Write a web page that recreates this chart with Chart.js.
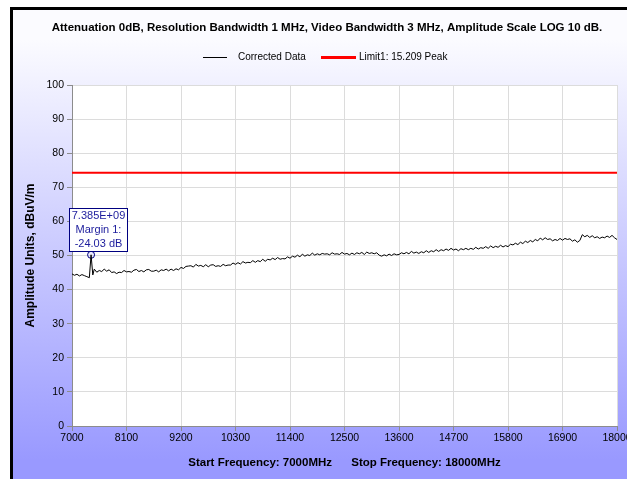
<!DOCTYPE html>
<html>
<head>
<meta charset="utf-8">
<script src="https://cdn.jsdelivr.net/npm/chart.js@4"></script>
<style>
html,body{margin:0;padding:0;background:#fff;}
#c{display:block;}
</style>
</head>
<body>
<canvas id="c" width="627" height="479"></canvas>
<script>
// ---------------- data ----------------
const chartTitle = 'Attenuation 0dB, Resolution Bandwidth 1 MHz, Video Bandwidth 3 MHz, Amplitude Scale LOG 10 dB.';
const xAxisTitle = 'Start Frequency: 7000MHz      Stop Frequency: 18000MHz';
const yAxisTitle = 'Amplitude Units, dBuV/m';
const seriesNames = ['Corrected Data', 'Limit1: 15.209 Peak'];

const freqs = [
  7000,7050,7100,7150,7200,7250,7300,7350,7385,7420,
  7450,7500,7550,7600,7650,7700,7750,7800,7850,7900,
  7950,8000,8050,8100,8150,8200,8250,8300,8350,8400,
  8450,8500,8550,8600,8650,8700,8750,8800,8850,8900,
  8950,9000,9050,9100,9150,9200,9250,9300,9350,9400,
  9450,9500,9550,9600,9650,9700,9750,9800,9850,9900,
  9950,10000,10050,10100,10150,10200,10250,10300,10350,10400,
  10450,10500,10550,10600,10650,10700,10750,10800,10850,10900,
  10950,11000,11050,11100,11150,11200,11250,11300,11350,11400,
  11450,11500,11550,11600,11650,11700,11750,11800,11850,11900,
  11950,12000,12050,12100,12150,12200,12250,12300,12350,12400,
  12450,12500,12550,12600,12650,12700,12750,12800,12850,12900,
  12950,13000,13050,13100,13150,13200,13250,13300,13350,13400,
  13450,13500,13550,13600,13650,13700,13750,13800,13850,13900,
  13950,14000,14050,14100,14150,14200,14250,14300,14350,14400,
  14450,14500,14550,14600,14650,14700,14750,14800,14850,14900,
  14950,15000,15050,15100,15150,15200,15250,15300,15350,15400,
  15450,15500,15550,15600,15650,15700,15750,15800,15850,15900,
  15950,16000,16050,16100,16150,16200,16250,16300,16350,16400,
  16450,16500,16550,16600,16650,16700,16750,16800,16850,16900,
  16950,17000,17050,17100,17150,17200,17250,17300,17350,17400,
  17450,17500,17550,17600,17650,17700,17750,17800,17850,17900,
  17950,18000
];
const amps = [
  44.6,44.2,44.5,44.0,44.4,44.1,43.8,43.5,50.2,44.3,
  46.0,45.1,45.6,45.3,46.0,45.4,45.8,45.0,45.2,44.7,
  45.1,45.0,45.6,45.2,45.3,45.1,45.7,45.9,45.3,45.6,
  45.2,45.8,45.9,45.4,45.4,45.7,45.2,45.8,45.6,46.0,
  45.5,46.0,45.6,46.1,45.8,46.5,46.2,46.8,46.9,47.0,
  46.6,47.4,46.9,47.1,46.7,47.3,46.7,47.2,47.3,46.8,
  47.0,46.8,47.4,47.0,47.2,47.2,47.8,47.4,47.9,47.5,
  48.2,47.8,48.0,47.9,48.5,48.0,48.5,48.2,48.9,48.3,
  48.9,48.7,49.2,48.8,49.4,48.9,49.1,49.0,49.6,49.2,
  49.8,49.5,50.1,49.6,50.4,49.8,50.2,50.0,50.7,50.1,
  50.5,50.2,50.6,50.4,50.5,50.2,50.8,50.4,50.5,50.3,
  50.9,50.4,50.6,50.2,50.7,50.3,50.8,50.5,50.9,50.3,
  51.0,50.6,50.8,50.5,50.8,50.1,49.8,50.2,49.9,50.4,
  50.0,50.5,50.2,50.3,50.8,50.5,50.9,50.5,51.2,50.7,
  51.0,50.6,51.1,50.8,51.4,50.9,51.4,51.1,51.7,51.2,
  51.7,51.4,51.9,51.5,52.1,51.6,51.9,51.4,52.0,51.7,
  52.1,51.7,52.1,51.8,52.4,51.9,52.3,52.1,52.6,52.1,
  52.8,52.3,52.7,52.4,53.0,52.5,52.9,52.6,53.3,53.1,
  53.6,53.2,53.9,53.5,54.2,53.8,54.4,54.0,54.7,54.3,
  55.1,54.6,55.2,54.7,54.9,54.3,54.7,54.4,55.0,54.5,
  55.0,54.7,54.9,54.2,54.6,53.9,54.4,56.1,55.5,55.9,
  55.3,55.8,55.2,55.5,55.0,55.4,55.2,55.7,55.3,55.9,
  55.2,54.7
];

const limitFreqs = [7000, 18000];
const limitLevels = [74.3, 74.3];

const markerFreqs = [7385];
const markerAmps = [50.2];
const markerText = ['7.385E+09', 'Margin 1:', '-24.03 dB'];

const xTicks = [7000,8100,9200,10300,11400,12500,13600,14700,15800,16900,18000];
const yTicks = [0,10,20,30,40,50,60,70,80,90,100];

// ---------------- helpers ----------------
const FONT = '"Liberation Sans", Arial, sans-serif';
const toXY = (xs, ys) => xs.map((x, i) => ({x: x, y: ys[i]}));

const framePlugin = {
  id: 'frame',
  beforeDraw(chart) {
    const ctx = chart.ctx;
    const W = chart.width, H = chart.height;
    ctx.save();
    ctx.fillStyle = '#ffffff';
    ctx.fillRect(0, 0, W, H);
    const g = ctx.createLinearGradient(0, 40, 0, 460);
    g.addColorStop(0, '#fbfbff');
    g.addColorStop(1, '#9999ff');
    ctx.fillStyle = g;
    ctx.fillRect(13, 10, W - 13, H - 10);
    ctx.fillStyle = '#000000';
    ctx.fillRect(10, 7, W - 10, 3);
    ctx.fillRect(10, 7, 3, H - 7);
    const a = chart.chartArea;
    ctx.fillStyle = '#ffffff';
    ctx.fillRect(a.left, a.top, a.right - a.left, a.bottom - a.top);
    ctx.restore();
  },
  afterDraw(chart) {
    const ctx = chart.ctx;
    ctx.save();
    // title
    ctx.fillStyle = '#000';
    ctx.font = 'bold 11.5px ' + FONT;
    ctx.textAlign = 'center';
    ctx.textBaseline = 'middle';
    ctx.fillText(chartTitle, 327, 28);
    // legend
    ctx.font = '10px ' + FONT;
    ctx.textAlign = 'left';
    const ds = chart.data.datasets;
    ctx.strokeStyle = ds[0].borderColor; ctx.lineWidth = 1;
    ctx.beginPath(); ctx.moveTo(203, 57.5); ctx.lineTo(227, 57.5); ctx.stroke();
    ctx.fillStyle = '#000';
    ctx.fillText(ds[0].label, 238, 57);
    ctx.strokeStyle = ds[1].borderColor; ctx.lineWidth = 3;
    ctx.beginPath(); ctx.moveTo(321, 57.5); ctx.lineTo(356, 57.5); ctx.stroke();
    ctx.fillText(ds[1].label, 359, 57);
    ctx.restore();
  },
  afterDatasetsDraw(chart) {
    const meta = chart.getDatasetMeta(2);
    if (!meta || !meta.data.length) return;
    const p = meta.data[0];
    const ctx = chart.ctx;
    const left = Math.round(p.x) - 22 + 0.5, right = Math.round(p.x) + 36 + 0.5;
    const top = Math.round(p.y) - 47 + 0.5, bottom = Math.round(p.y) - 4 + 0.5;
    ctx.save();
    ctx.fillStyle = '#ffffff';
    ctx.fillRect(left, top, right - left, bottom - top);
    ctx.strokeStyle = '#000080';
    ctx.lineWidth = 1;
    ctx.strokeRect(left, top, right - left, bottom - top);
    ctx.fillStyle = '#1c1c9c';
    ctx.font = '11px ' + FONT;
    ctx.textAlign = 'center';
    ctx.textBaseline = 'middle';
    const cx = (left + right) / 2;
    markerText.forEach((t, i) => ctx.fillText(t, cx, top + 7 + i * 14));
    ctx.restore();
  }
};

new Chart(document.getElementById('c'), {
  type: 'line',
  data: {
    datasets: [
      {
        label: seriesNames[0],
        data: toXY(freqs, amps),
        borderColor: '#000000',
        borderWidth: 1,
        pointRadius: 0,
        tension: 0,
        fill: false
      },
      {
        label: seriesNames[1],
        data: toXY(limitFreqs, limitLevels),
        borderColor: '#ff0000',
        borderWidth: 2,
        pointRadius: 0,
        fill: false
      },
      {
        label: 'Marker 1',
        data: toXY(markerFreqs, markerAmps),
        showLine: false,
        pointRadius: 3.5,
        pointBorderWidth: 1,
        pointBorderColor: '#000080',
        pointBackgroundColor: 'rgba(220,220,255,0.5)',
        borderColor: '#000080'
      }
    ]
  },
  options: {
    responsive: false,
    animation: false,
    devicePixelRatio: 1,
    events: [],
    layout: { padding: { left: 0, right: 10, top: 85, bottom: 0 } },
    plugins: {
      legend: { display: false },
      title: { display: false },
      tooltip: { enabled: false }
    },
    scales: {
      x: {
        type: 'linear',
        min: 7000, max: 18000,
        afterBuildTicks: s => { s.ticks = xTicks.map(v => ({value: v})); },
        afterFit: s => { s.height = 53; s.paddingLeft = 0; s.paddingRight = 0; },
        grid: { color: '#dcdcdc', lineWidth: 1, drawTicks: true, tickLength: 5, tickColor: '#8c8c8c' },
        border: { color: '#8c8c8c', width: 1 },
        ticks: {
          autoSkip: false, maxRotation: 0, padding: 1,
          color: '#000', font: { family: FONT, size: 10.5 },
          callback: v => String(v)
        },
        title: {
          display: true, text: xAxisTitle, color: '#000',
          font: { family: FONT, size: 11.5, weight: 'bold' },
          padding: { top: 0, bottom: 9.5 }
        }
      },
      y: {
        type: 'linear',
        min: 0, max: 100,
        afterBuildTicks: s => { s.ticks = yTicks.map(v => ({value: v})); },
        afterFit: s => { s.width = 72; s.paddingTop = 0; s.paddingBottom = 0; },
        grid: { color: '#dcdcdc', lineWidth: 1, drawTicks: true, tickLength: 5, tickColor: '#8c8c8c' },
        border: { color: '#8c8c8c', width: 1 },
        ticks: {
          autoSkip: false, padding: 3,
          color: '#000', font: { family: FONT, size: 10.5 },
          callback: v => String(v)
        },
        title: {
          display: true, text: yAxisTitle, color: '#000',
          font: { family: FONT, size: 12, weight: 'bold' },
          padding: { top: 23, bottom: 0 }
        }
      }
    }
  },
  plugins: [framePlugin]
});
</script>
</body>
</html>
